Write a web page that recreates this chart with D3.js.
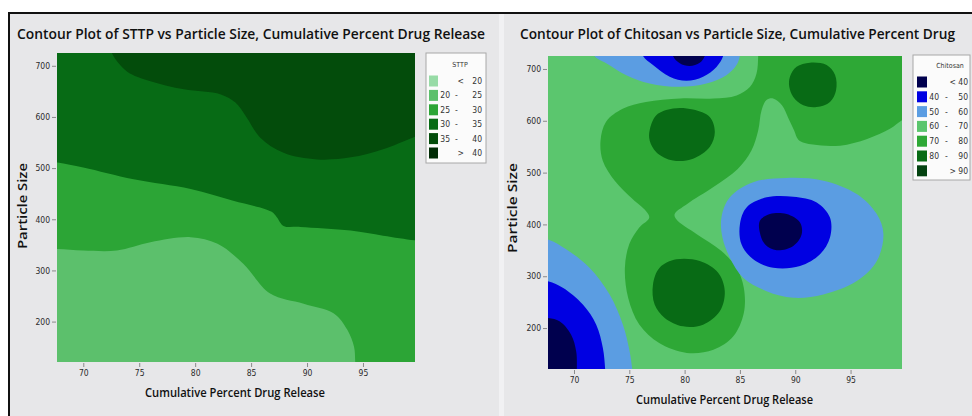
<!DOCTYPE html>
<html><head><meta charset="utf-8">
<script src="https://cdn.jsdelivr.net/npm/d3@7"></script>
<style>body{margin:0;background:#fff}svg{display:block}</style>
</head><body>
<svg id="c" width="972" height="416"></svg>
<script>
// ---------------- data ----------------
const xTicks = [70, 75, 80, 85, 90, 95];
const yTicks = [200, 300, 400, 500, 600, 700];
const xDomain = [67.65, 99.65];
const yDomain = [121, 725];

const sttpLabels = [["", "<", "20"], ["20", "-", "25"], ["25", "-", "30"], ["30", "-", "35"], ["35", "-", "40"], ["", ">", "40"]];
const sttpColors = ["#97dba6", "#5cc06c", "#2ca536", "#076b15", "#034c0b", "#012c06"];
const sttpBase = 1;
// contour boundaries (Cumulative %, Particle size)
const sttp25 = [[66,342],[67.7,342],[70.0,339],[73.0,339],[76.0,355],[79.6,365],[82.0,352],[84.3,313],[86.7,255],[89.7,235],[92.4,216],[93.6,184],[94.2,151],[94.3,125],[94.3,100]];
const sttp30 = [[66,513],[67.7,511],[70.0,501],[74.5,478],[79.6,459],[83.4,436],[86.8,415],[87.3,404],[87.9,387],[89.4,385],[93.9,378],[96.8,368],[99.6,359],[101,356]];
const sttp35 = [[72.3,745],[72.6,723],[73.9,689],[76.0,670],[79.0,654],[82.3,644],[83.6,628],[84.6,599],[85.8,560],[87.9,530],[90.9,517],[93.9,521],[96.8,537],[99.5,560],[101,570]];

const chitLabels = [["", "<", "40"], ["40", "-", "50"], ["50", "-", "60"], ["60", "-", "70"], ["70", "-", "80"], ["80", "-", "90"], ["", ">", "90"]];
const chitColors = ["#00004e", "#0000e2", "#5b9de2", "#5bc66e", "#2ea836", "#086b15", "#034210"];
const chitBase = 3;
const chit70 = [[86.65,750],[86.65,725],[86.5,691],[85.9,665],[84.7,649],[82.6,643],[79.6,643],[76.5,636],[74.4,623],[72.9,598],[72.4,562],[72.6,523],[73.7,484],[75.3,449],[76.5,426],[76.8,413],[75.9,394],[75.0,362],[74.6,316],[74.9,258],[75.9,207],[77.7,171],[80.2,152],[82.6,158],[84.4,184],[85.35,229],[85.35,278],[84.7,316],[83.3,349],[81.1,381],[79.25,410],[79.1,420],[80.2,439],[82.6,472],[84.8,507],[86.05,543],[86.65,581],[86.95,620],[87.4,640],[88.0,643],[88.8,630],[89.4,604],[89.9,581],[90.3,563],[91.6,554],[94.05,552],[96.5,565],[98.6,585],[99.65,601],[101,612]];
const chit80a = [[76.84,581.5],[77.44,610.6],[78.95,623.5],[80.76,621.6],[82.27,607.4],[82.73,578.3],[82.27,549.2],[80.76,526.6],[78.95,523.3],[77.44,539.5],[76.84,562.1]];
const chit80b = [[89.52,684.9],[90.12,704.3],[91.33,712.1],[92.84,707.5],[93.6,688.2],[93.69,659.1],[93.14,636.4],[91.94,626.7],[90.73,630.0],[89.82,646.1],[89.46,665.5]];
const chit80c = [[77.14,284.1],[77.74,316.5],[79.25,332.6],[81.37,329.4],[83.03,306.8],[83.63,271.2],[83.18,232.4],[81.67,206.6],[79.86,203.3],[78.2,219.5],[77.29,245.4]];
const chit50top = [[71.6,750],[71.86,725],[72.91,711],[74.73,688],[76.84,672],[79.56,665.5],[81.97,672],[83.78,688],[84.69,707.5],[84.99,725],[85.1,750]];
const chit40top = [[76.0,750],[76.24,725],[77.14,707.5],[78.65,685],[80.16,677],[81.67,685],[82.88,704],[83.48,725],[83.6,750]];
const chit30top = [[78.8,750],[78.95,725],[79.56,711],[80.46,705.6],[81.37,712],[81.82,725],[81.9,750]];
const chit50corner = [[64,380],[67.6,371.4],[69.29,352],[71.4,316.5],[73.22,264.8],[74.42,206.6],[75.03,154.9],[75.27,119.3],[75.35,95]];
const chit40corner = [[64,296],[67.6,290.6],[68.99,277.7],[70.8,245.4],[72.01,206.6],[72.61,161.3],[72.82,119.3],[72.85,95]];
const chit30corner = [[64,222],[67.6,219.5],[68.69,213],[69.74,187.2],[70.2,154.9],[70.26,119.3],[70.27,95]];
const chit50mid = [[83.33,413.4],[84.09,452.2],[86.2,481.3],[89.22,489.7],[92.54,484.5],[95.56,458.7],[97.37,419.9],[97.97,381.1],[97.37,329.4],[95.56,290.6],[92.54,264.8],[89.82,258.3],[87.41,271.2],[85.29,297.1],[84.09,335.9],[83.42,374.6]];
const chit40mid = [[85.0,400.5],[85.6,432.8],[87.41,452.2],[89.82,453.5],[91.94,442.5],[93.14,413.4],[93.14,374.6],[92.24,342.3],[90.43,319.7],[88.01,316.5],[86.2,332.6],[85.14,361.7]];
const chit30mid = [[86.8,407],[87.71,419.9],[89.22,419.9],[90.43,403.7],[90.58,381.1],[89.82,358.5],[88.31,350.1],[87.26,361.7],[86.8,384.3]];

// ---------------- drawing ----------------
const svg = d3.select("#c");
const FONT = "'Open Sans','Noto Sans',sans-serif";
const TICKFONT = "'DejaVu Sans Condensed','Liberation Sans Narrow',Roboto,sans-serif";

svg.append("rect").attr("x", 0).attr("y", 0).attr("width", 972).attr("height", 416).attr("fill", "#ffffff");
svg.append("rect").attr("x", 10).attr("y", 14).attr("width", 489).attr("height", 402).attr("fill", "#e7e7e9");
svg.append("rect").attr("x", 499).attr("y", 14).attr("width", 5).attr("height", 402).attr("fill", "#f1f1f3");
svg.append("rect").attr("x", 504).attr("y", 14).attr("width", 468).attr("height", 402).attr("fill", "#e7e7e9");
svg.append("rect").attr("x", 8).attr("y", 12).attr("width", 964).attr("height", 2).attr("fill", "#111");
svg.append("rect").attr("x", 8).attr("y", 12).attr("width", 2).attr("height", 404).attr("fill", "#111");

function drawPanel(cfg) {
  const x = d3.scaleLinear().domain(xDomain).range([cfg.left, cfg.right]);
  const y = d3.scaleLinear().domain(yDomain).range([cfg.bottom, cfg.top]);
  const clipId = cfg.id + "clip";
  svg.append("clipPath").attr("id", clipId).append("rect")
    .attr("x", cfg.left).attr("y", cfg.top)
    .attr("width", cfg.right - cfg.left).attr("height", cfg.bottom - cfg.top);
  const plot = svg.append("g").attr("clip-path", `url(#${clipId})`);
  plot.append("rect").attr("x", cfg.left).attr("y", cfg.top)
    .attr("width", cfg.right - cfg.left).attr("height", cfg.bottom - cfg.top)
    .attr("fill", cfg.colors[cfg.base]);
  const XMIN = xDomain[0] - 5, XMAX = xDomain[1] + 5, YMIN = yDomain[0] - 80, YMAX = yDomain[1] + 80;
  const open = d3.line().x(d => x(d[0])).y(d => y(d[1])).curve(d3.curveCatmullRom.alpha(0.5));
  const closed = d3.line().x(d => x(d[0])).y(d => y(d[1])).curve(d3.curveCatmullRomClosed.alpha(0.5));
  cfg.regions.forEach(r => {
    let d;
    if (r.close === "none") d = closed(r.pts);
    else {
      const f = r.pts[0], l = r.pts[r.pts.length - 1];
      let extra;
      if (r.close === "above") extra = [[XMAX, l[1]], [XMAX, YMAX], [XMIN, YMAX], [XMIN, f[1]]];
      else if (r.close === "top") extra = [[l[0], YMAX], [f[0], YMAX]];
      else if (r.close === "leftbottom") extra = [[l[0], YMIN], [XMIN, YMIN], [XMIN, f[1]]];
      else if (r.close === "topright") extra = [[XMAX, l[1]], [XMAX, YMAX], [f[0], YMAX]];
      d = open(r.pts) + extra.map(p => `L${x(p[0])},${y(p[1])}`).join("") + "Z";
    }
    plot.append("path").attr("d", d).attr("fill", cfg.colors[r.level]);
  });

  // axes
  const ax = svg.append("g").attr("transform", `translate(0,${cfg.bottom + 1})`)
    .call(d3.axisBottom(x).tickValues(xTicks).tickSize(4).tickPadding(3));
  const ay = svg.append("g").attr("transform", `translate(${cfg.left - 1},0)`)
    .call(d3.axisLeft(y).tickValues(yTicks).tickSize(4).tickPadding(2));
  [ax, ay].forEach(a => {
    a.select(".domain").remove();
    a.selectAll("line").attr("stroke", "#8a8a8a");
    a.selectAll("text").attr("fill", "#2b2b2b").style("font-family", TICKFONT).style("font-size", "8.5px");
  });

  // titles
  svg.append("text").attr("x", cfg.titleX).attr("y", 39).text(cfg.title)
    .attr("textLength", cfg.titleLen).attr("lengthAdjust", "spacingAndGlyphs")
    .style("font-family", FONT).style("font-weight", 600).style("font-size", "13.6px").attr("fill", "#111");
  svg.append("text").attr("x", cfg.xlabX).attr("y", cfg.xlabY).text("Cumulative Percent Drug Release")
    .attr("textLength", cfg.xlabLen).attr("lengthAdjust", "spacingAndGlyphs")
    .style("font-family", FONT).style("font-weight", 600).style("font-size", "12.5px").attr("fill", "#111");
  svg.append("text").attr("transform", `translate(${cfg.ylabX},${cfg.ylabY}) rotate(-90)`)
    .attr("text-anchor", "middle").text("Particle Size")
    .attr("textLength", cfg.ylabLen).attr("lengthAdjust", "spacingAndGlyphs")
    .style("font-family", FONT).style("font-weight", 600).style("font-size", "12.5px").attr("fill", "#111");

  // legend
  const L = cfg.legend;
  svg.append("rect").attr("x", L.x).attr("y", L.y).attr("width", L.w).attr("height", L.h)
    .attr("fill", "#fbfbfb").attr("stroke", "#a8a8a8").attr("stroke-width", 1);
  svg.append("text").attr("x", L.titleX).attr("y", L.titleY).attr("text-anchor", "middle").text(L.title)
    .style("font-family", TICKFONT).style("font-size", "7px").attr("fill", "#333");
  cfg.labels.forEach((lab, i) => {
    const cy = L.row0 + L.step * i;
    svg.append("rect").attr("x", L.swX).attr("y", cy - 5.5).attr("width", L.swW).attr("height", 11).attr("fill", cfg.colors[i]);
    const t = (txt, xx, anchor) => svg.append("text").attr("x", xx).attr("y", cy + 3).attr("text-anchor", anchor).text(txt)
      .style("font-family", TICKFONT).style("font-size", "8.5px").attr("fill", "#333");
    if (lab[0]) { t(lab[0], L.lowX, "end"); t(lab[1], L.dashX, "middle"); }
    else t(lab[1], L.symX, "end");
    t(lab[2], L.highX, "end");
  });
}

drawPanel({
  id: "sttp", left: 57, right: 415, top: 53, bottom: 362,
  colors: sttpColors, base: sttpBase, labels: sttpLabels,
  regions: [
    { level: 2, pts: sttp25, close: "above" },
    { level: 3, pts: sttp30, close: "above" },
    { level: 4, pts: sttp35, close: "above" }
  ],
  title: "Contour Plot of STTP vs Particle Size, Cumulative Percent Drug Release", titleX: 17, titleLen: 468,
  xlabX: 145, xlabY: 397, xlabLen: 180, ylabX: 27, ylabY: 206, ylabLen: 86,
  legend: { x: 426, y: 53, w: 60, h: 110, title: "STTP", titleX: 460, titleY: 67, row0: 81, step: 14.4,
    swX: 429, swW: 9, lowX: 450, dashX: 456.5, symX: 464, highX: 482 }
});

drawPanel({
  id: "chit", left: 548, right: 902, top: 56, bottom: 369,
  colors: chitColors, base: chitBase, labels: chitLabels,
  regions: [
    { level: 4, pts: chit70, close: "topright" },
    { level: 5, pts: chit80a, close: "none" },
    { level: 5, pts: chit80b, close: "none" },
    { level: 5, pts: chit80c, close: "none" },
    { level: 2, pts: chit50top, close: "top" },
    { level: 1, pts: chit40top, close: "top" },
    { level: 0, pts: chit30top, close: "top" },
    { level: 2, pts: chit50corner, close: "leftbottom" },
    { level: 1, pts: chit40corner, close: "leftbottom" },
    { level: 0, pts: chit30corner, close: "leftbottom" },
    { level: 2, pts: chit50mid, close: "none" },
    { level: 1, pts: chit40mid, close: "none" },
    { level: 0, pts: chit30mid, close: "none" }
  ],
  title: "Contour Plot of Chitosan vs Particle Size, Cumulative Percent Drug", titleX: 520, titleLen: 435,
  xlabX: 636, xlabY: 404, xlabLen: 177, ylabX: 517, ylabY: 208, ylabLen: 90,
  legend: { x: 913, y: 55, w: 57, h: 125, title: "Chitosan", titleX: 950, titleY: 68, row0: 82, step: 14.8,
    swX: 917, swW: 10, lowX: 939, dashX: 946.5, symX: 956, highX: 968 }
});
</script>
</body></html>
